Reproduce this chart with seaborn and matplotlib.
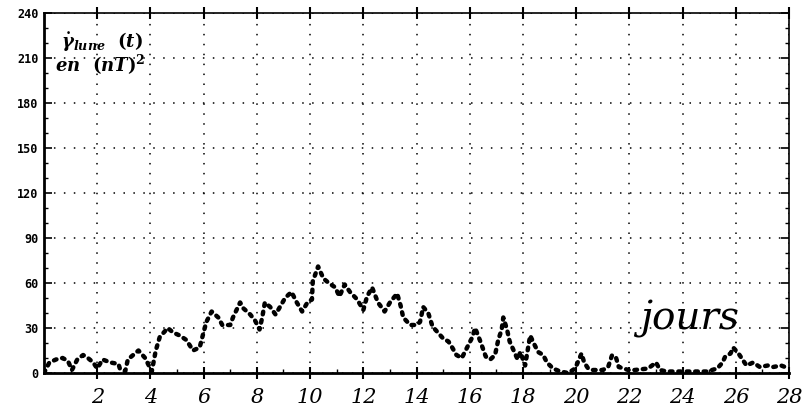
import matplotlib
matplotlib.use("Agg")
import matplotlib.pyplot as plt
import seaborn as sns
import pandas as pd

# values (day, gamma in nT^2)
days = [0.0, 0.2, 0.45, 0.7, 0.9, 1.05, 1.25, 1.47, 1.65, 1.85, 2.0, 2.2, 2.5,
        2.8, 2.85, 3.05, 3.15, 3.35, 3.55, 3.8, 4.05, 4.2, 4.35, 4.65, 4.85,
        5.1, 5.35, 5.6, 5.85, 5.98, 6.1, 6.3, 6.55, 6.7, 7.0, 7.1, 7.37, 7.5,
        7.75, 7.93, 8.1, 8.2, 8.3, 8.5, 8.7, 8.8, 9.06, 9.3, 9.5, 9.7, 9.9,
        10.07, 10.1, 10.3, 10.5, 10.7, 10.95, 11.1, 11.3, 11.5, 11.77, 12.0,
        12.14, 12.33, 12.55, 12.8, 13.0, 13.27, 13.4, 13.5, 13.76, 14.0, 14.13,
        14.25, 14.44, 14.6, 14.8, 15.0, 15.2, 15.34, 15.5, 15.7, 15.9, 16.1,
        16.2, 16.4, 16.6, 16.77, 16.95, 17.07, 17.2, 17.26, 17.4, 17.5, 17.6,
        17.8, 17.9, 18.08, 18.27, 18.4, 18.57, 18.76, 18.9, 19.13, 19.4, 19.7,
        19.96, 20.2, 20.3, 20.45, 20.6, 21.0, 21.2, 21.35, 21.5, 21.6, 21.8,
        21.95, 22.2, 22.7, 23.0, 23.15, 23.4, 23.9, 24.3, 24.9, 25.3, 25.5,
        25.6, 25.8, 25.9, 26.1, 26.25, 26.4, 26.65, 26.9, 27.2, 27.4, 27.7,
        27.85]
gamma = [0, 7, 9, 10, 8, 2, 9, 12, 10, 7, 3, 9, 7,
         6, 3, 1, 9, 12, 15, 10, 1, 15, 24, 30, 27,
         25, 22, 15, 17, 26, 34, 41, 37, 32, 32, 37, 47, 43,
         39, 35, 29, 37, 47, 44, 39, 42, 50, 54, 47, 41, 47,
         49, 61, 71, 63, 60, 57, 51, 59, 54, 49, 42,
         51, 57, 47, 41, 47, 53, 45, 37, 32, 32, 34,
         44, 40, 31, 27, 23, 21, 17, 12, 10, 17, 24,
         30, 21, 11, 9, 12, 22, 29, 37, 29, 21, 17,
         9, 14, 5, 25, 20, 14, 12, 7, 3, 1, 0,
         3, 13, 7, 3, 2, 2, 4, 12, 10, 4, 3,
         2, 2, 3, 7, 2, 1, 1, 1, 1, 3, 7,
         11, 13, 17, 13, 9, 5, 7, 4, 5, 4, 5,
         4]

x_ticks = list(range(2, 29, 2))
y_ticks = list(range(0, 241, 30))

df = pd.DataFrame({"jour": days, "gamma": gamma})

sns.set_style("ticks")
plt.rcParams["font.family"] = ["DejaVu Sans"]
plt.rcParams["text.color"] = "black"
plt.rcParams["xtick.color"] = "black"
plt.rcParams["ytick.color"] = "black"
plt.rcParams["axes.edgecolor"] = "black"
plt.rcParams["mathtext.fontset"] = "custom"
plt.rcParams["mathtext.rm"] = "DejaVu Serif:bold"
plt.rcParams["mathtext.it"] = "DejaVu Serif:bold:italic"
plt.rcParams["mathtext.bf"] = "DejaVu Serif:bold"

fig = plt.figure(figsize=(8.06, 4.17), dpi=100)
ax = fig.add_axes([0.0546, 0.1055, 0.9244, 0.8635])

sns.lineplot(data=df, x="jour", y="gamma", ax=ax, color="black",
             linewidth=3.2, linestyle=(0, (0.6, 1.3)),
             solid_capstyle="round", dash_capstyle="round")

ax.set_xlim(0, 28)
ax.set_ylim(0, 240)
ax.set_xticks(x_ticks)
ax.set_yticks(y_ticks)
ax.set_yticks(range(0, 241, 10), minor=True)
ax.set_xticks(range(0, 29, 1), minor=True)

ax.grid(True, which="major", color="black", linestyle=(0, (1, 5.5)),
        linewidth=1.1)
ax.set_axisbelow(True)

ax.set_xticklabels([str(t) for t in x_ticks], fontsize=15,
                   family="DejaVu Serif", style="italic")
ax.set_yticklabels([str(t) for t in y_ticks], fontsize=8.5,
                   fontweight="bold", family="DejaVu Sans Mono")
ax.tick_params(axis="x", which="major", direction="inout", length=9,
               width=1.5, pad=6, top=True)
ax.tick_params(axis="x", which="minor", direction="in", length=3,
               width=1, top=False)
ax.tick_params(axis="y", which="major", direction="in", length=6,
               width=1.2, right=True, pad=4)
ax.tick_params(axis="y", which="minor", direction="in", length=3,
               width=1, right=True)

for side in ["left", "bottom"]:
    ax.spines[side].set_linewidth(2)
for side in ["top", "right"]:
    ax.spines[side].set_linewidth(1.2)
    ax.spines[side].set_visible(True)

ax.set_xlabel("")
ax.set_ylabel("")

ax.text(0.65, 220, r"$\dot{\gamma}_{lune}\ \ (t)$", fontsize=13, va="center")
ax.text(0.4, 205, r"$en\ \ (nT)^2$", fontsize=13, va="center")
ax.text(22.4, 29, "jours", fontsize=28, family="DejaVu Serif",
        style="italic", va="baseline")

fig.savefig("out.png", dpi=100)
